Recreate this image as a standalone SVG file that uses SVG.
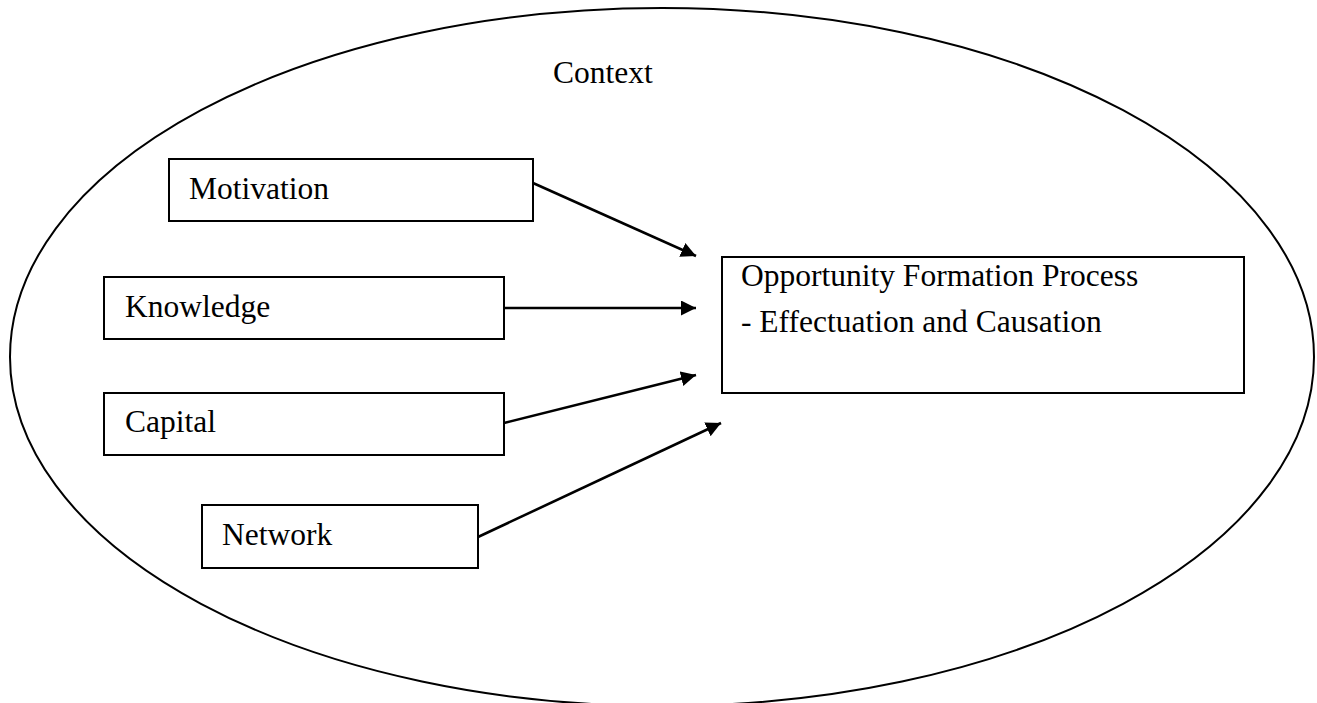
<svg xmlns="http://www.w3.org/2000/svg" width="1317" height="703" viewBox="0 0 1317 703">
<style>
.box{fill:#fff;stroke:#000;stroke-width:2}
.lbl{font-family:"Liberation Serif","Times New Roman",serif;font-size:31.5px;fill:#000}
.conn{stroke:#000;stroke-width:2.6;fill:none}
</style>
<defs>
<marker id="ah" markerUnits="userSpaceOnUse" markerWidth="16" markerHeight="16" refX="15" refY="7.5" orient="auto">
<path d="M0,0 L15,7.5 L0,15 z" fill="#000"/>
</marker>
</defs>
<rect width="1317" height="703" fill="#fff"/>
<g id="context">
<ellipse cx="662" cy="357" rx="652" ry="349" fill="none" stroke="#000" stroke-width="2"/>
<text class="lbl" x="553" y="83">Context</text>
</g>
<g id="motivation">
<rect class="box" x="169" y="159" width="364" height="62"/>
<text class="lbl" x="189" y="199">Motivation</text>
</g>
<g id="knowledge">
<rect class="box" x="104" y="277" width="400" height="62"/>
<text class="lbl" x="125" y="317">Knowledge</text>
</g>
<g id="capital">
<rect class="box" x="104" y="393" width="400" height="62"/>
<text class="lbl" x="125" y="432">Capital</text>
</g>
<g id="network">
<rect class="box" x="202" y="505" width="276" height="63"/>
<text class="lbl" x="222" y="545">Network</text>
</g>
<g id="ofp">
<rect class="box" x="722" y="257" width="522" height="136"/>
<text class="lbl" x="741" y="286">Opportunity Formation Process</text>
<text class="lbl" x="741" y="332">- Effectuation and Causation</text>
</g>
<g id="connectors">
<line class="conn" x1="533" y1="183" x2="696" y2="256" marker-end="url(#ah)"/>
<line class="conn" x1="504" y1="308" x2="696" y2="308" marker-end="url(#ah)"/>
<line class="conn" x1="504" y1="423" x2="696" y2="375" marker-end="url(#ah)"/>
<line class="conn" x1="478" y1="537" x2="721" y2="423" marker-end="url(#ah)"/>
</g>
</svg>
